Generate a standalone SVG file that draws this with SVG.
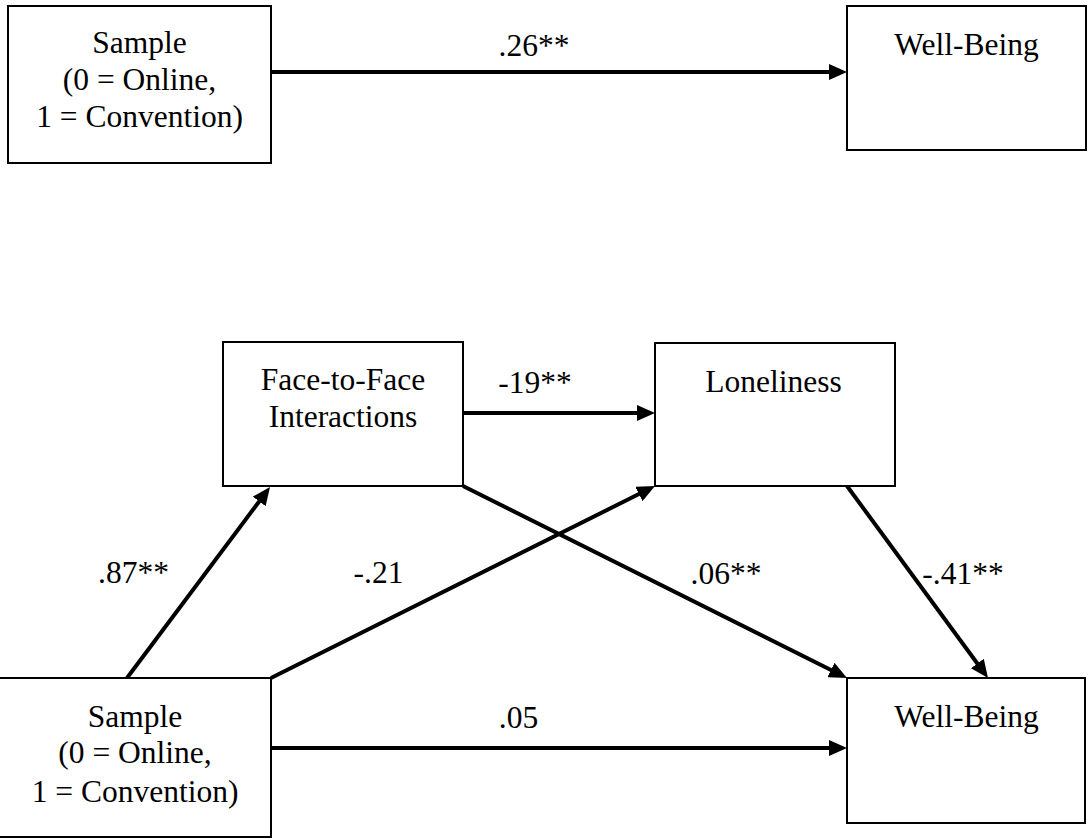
<svg xmlns="http://www.w3.org/2000/svg" width="1089" height="840" viewBox="0 0 1089 840">
  <style>
    .box { fill: #ffffff; stroke: #000000; stroke-width: 2; }
    .lbl { font-family: 'Liberation Serif', 'DejaVu Serif', serif; font-size: 31.5px; fill: #000000; text-anchor: middle; }
    .edge { stroke: #000000; stroke-width: 4; fill: none; marker-end: url(#arrow); }
  </style>
  <defs>
    <marker id="arrow" markerUnits="userSpaceOnUse" markerWidth="18" markerHeight="16" refX="9" refY="8" orient="auto">
      <path d="M0,0 L18,8 L0,16 Z" fill="#000000"/>
    </marker>
  </defs>
  <rect x="0" y="0" width="1089" height="840" fill="#ffffff"/>

  <g id="connectors">
    <line class="edge" x1="271" y1="72" x2="838" y2="72"/>
    <line class="edge" x1="463" y1="413" x2="646" y2="413"/>
    <line class="edge" x1="127" y1="678" x2="264.6" y2="494.2"/>
    <line class="edge" x1="271" y1="678" x2="646.95" y2="490.03"/>
    <line class="edge" x1="463" y1="486" x2="838.95" y2="673.97"/>
    <line class="edge" x1="847" y1="486" x2="982.67" y2="670.75"/>
    <line class="edge" x1="271" y1="748" x2="838" y2="748"/>
  </g>

  <g id="edge-labels">
    <text class="lbl" x="534" y="56">.26**</text>
    <text class="lbl" x="535" y="393">-19**</text>
    <text class="lbl" x="133.5" y="583">.87**</text>
    <text class="lbl" x="378.5" y="583">-.21</text>
    <text class="lbl" x="726" y="584">.06**</text>
    <text class="lbl" x="963" y="584">-.41**</text>
    <text class="lbl" x="518.5" y="728">.05</text>
  </g>

  <g id="sample-top">
    <rect class="box" x="8" y="6" width="263" height="157"/>
    <text class="lbl" x="139.5" y="53">Sample</text>
    <text class="lbl" x="139.5" y="90">(0 = Online,</text>
    <text class="lbl" x="139.5" y="127">1 = Convention)</text>
  </g>

  <g id="wellbeing-top">
    <rect class="box" x="847" y="6" width="239" height="144"/>
    <text class="lbl" x="966.5" y="55">Well-Being</text>
  </g>

  <g id="face-to-face">
    <rect class="box" x="223" y="342" width="240" height="144"/>
    <text class="lbl" x="343" y="390">Face-to-Face</text>
    <text class="lbl" x="343" y="427">Interactions</text>
  </g>

  <g id="loneliness">
    <rect class="box" x="655" y="343" width="240" height="143"/>
    <text class="lbl" x="773.5" y="392">Loneliness</text>
  </g>

  <g id="sample-bottom">
    <rect class="box" x="-2" y="678" width="273" height="159"/>
    <text class="lbl" x="135" y="727">Sample</text>
    <text class="lbl" x="135" y="763">(0 = Online,</text>
    <text class="lbl" x="135" y="802">1 = Convention)</text>
  </g>

  <g id="wellbeing-bottom">
    <rect class="box" x="847" y="678" width="238" height="145"/>
    <text class="lbl" x="966.5" y="727">Well-Being</text>
  </g>
</svg>
